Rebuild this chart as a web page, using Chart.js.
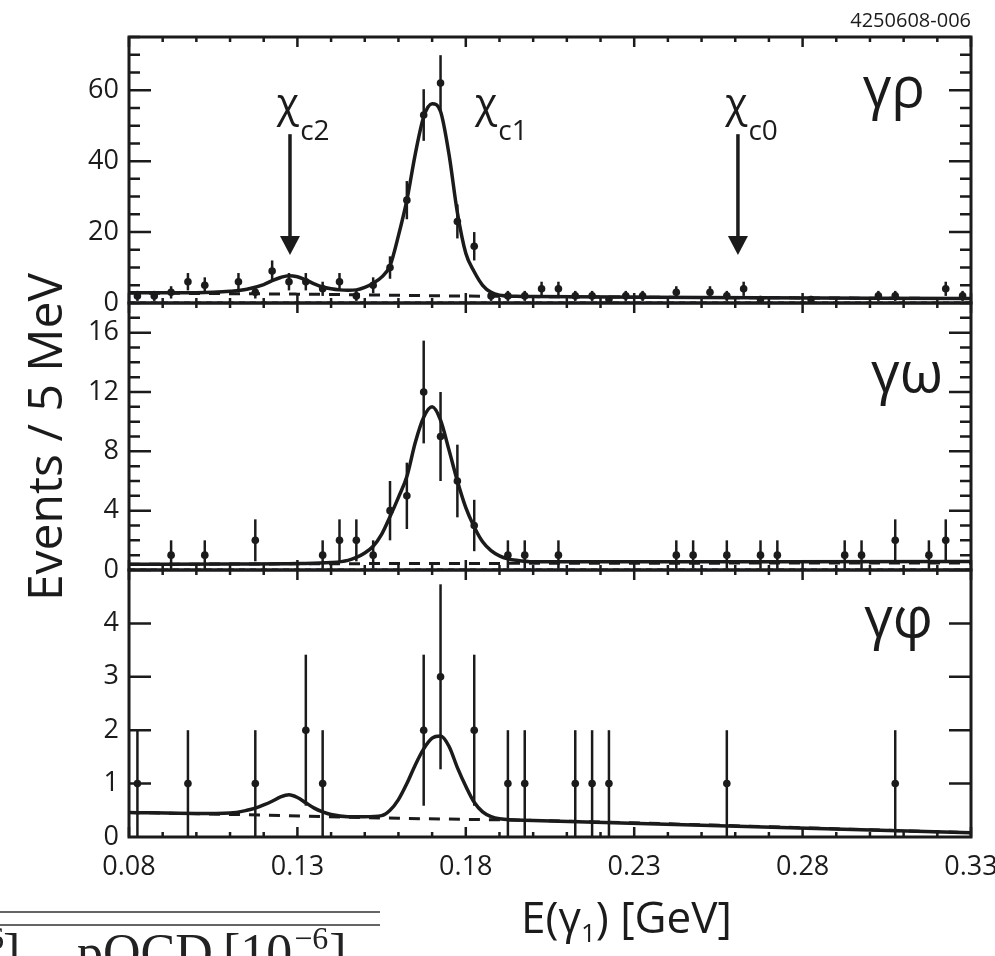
<!DOCTYPE html>
<html>
<head>
<meta charset="utf-8">
<script src="https://cdn.jsdelivr.net/npm/chart.js@4.4.1/dist/chart.umd.min.js"></script>
<style>
  html, body { margin: 0; padding: 0; background: #fff; }
  #wrap { position: relative; width: 995px; height: 956px; overflow: hidden; }
  #wrap canvas { position: absolute; left: 0; top: 0; }
</style>
</head>
<body>
<div id="wrap">
  <canvas id="rho" width="995" height="956"></canvas>
  <canvas id="omega" width="995" height="956"></canvas>
  <canvas id="phi" width="995" height="956"></canvas>
</div>
<script>
// ---- values ----
const xTicks = [0.08, 0.13, 0.18, 0.23, 0.28, 0.33];

// gamma rho panel
const rhoE = [0.0825, 0.0875, 0.0925, 0.0975, 0.1025, 0.1125, 0.1175, 0.1225, 0.1275, 0.1325,
              0.1375, 0.1425, 0.1475, 0.1525, 0.1575, 0.1625, 0.1675, 0.1725, 0.1775, 0.1825,
              0.1875, 0.1925, 0.1975, 0.2025, 0.2075, 0.2125, 0.2175, 0.2225, 0.2275, 0.2325,
              0.2425, 0.2525, 0.2575, 0.2625, 0.2675, 0.2825, 0.3025, 0.3075, 0.3225, 0.3275];
const rhoN = [2, 2, 3, 6, 5, 6, 3, 9, 6, 6,
              4, 6, 2, 5, 10, 29, 53, 62, 23, 16,
              2, 2, 2, 4, 4, 2, 2, 1, 2, 2,
              3, 3, 2, 4, 1, 1, 2, 2, 4, 2];
const rhoFitE = [0.080, 0.090, 0.100, 0.105, 0.110, 0.115, 0.120, 0.1225, 0.125, 0.1275,
                 0.130, 0.1325, 0.135, 0.1375, 0.140, 0.1425, 0.145, 0.1475, 0.150, 0.1525,
                 0.155, 0.1575, 0.160, 0.1625, 0.165, 0.1675, 0.170, 0.1725, 0.175, 0.1775,
                 0.180, 0.1825, 0.185, 0.1875, 0.190, 0.195, 0.200, 0.250, 0.330];
const rhoFitY = [2.9, 2.9, 2.9, 3.0, 3.3, 3.9, 5.2, 6.3, 7.2, 7.7,
                 7.4, 6.5, 5.4, 4.5, 4.0, 3.7, 3.6, 3.7, 4.4, 5.6,
                 7.3, 10.5, 19, 29, 42, 52.5, 56.2, 54, 42, 25.5,
                 14, 8.8, 5.0, 3.0, 2.2, 1.9, 1.8, 1.55, 1.25];
const rhoBkgE = [0.08, 0.13, 0.18, 0.20, 0.25, 0.33];
const rhoBkgY = [2.8, 2.5, 1.95, 1.8, 1.55, 1.25];
const rhoTicks = [0, 20, 40, 60];

// gamma omega panel
const omegaE = [0.0925, 0.1025, 0.1175, 0.1375, 0.1425, 0.1475, 0.1525, 0.1575, 0.1625, 0.1675,
                0.1725, 0.1775, 0.1825, 0.1925, 0.1975, 0.2075, 0.2425, 0.2475, 0.2575, 0.2675,
                0.2725, 0.2925, 0.2975, 0.3075, 0.3175, 0.3225];
const omegaN = [1, 1, 2, 1, 2, 2, 1, 4, 5, 12,
                9, 6, 3, 1, 1, 1, 1, 1, 1, 1,
                1, 1, 1, 2, 1, 2];
const omegaFitE = [0.080, 0.110, 0.130, 0.140, 0.145, 0.1475, 0.150, 0.1525, 0.155, 0.1575,
                   0.160, 0.1625, 0.165, 0.1675, 0.170, 0.1725, 0.175, 0.1775, 0.180, 0.1825,
                   0.185, 0.1875, 0.190, 0.1925, 0.195, 0.200, 0.330];
const omegaFitY = [0.38, 0.40, 0.43, 0.5, 0.65, 0.85, 1.15, 1.6, 2.4, 3.6,
                   4.9, 6.3, 8.6, 10.3, 11.0, 10.1, 8.1, 6.0, 4.2, 2.9,
                   1.9, 1.3, 0.95, 0.75, 0.65, 0.55, 0.57];
const omegaBkgE = [0.08, 0.15, 0.33];
const omegaBkgY = [0.38, 0.43, 0.48];
const omegaTicks = [0, 4, 8, 12, 16];

// gamma phi panel
const phiE = [0.0825, 0.0975, 0.1175, 0.1325, 0.1375, 0.1675, 0.1725, 0.1825, 0.1925, 0.1975,
              0.2125, 0.2175, 0.2225, 0.2575, 0.3075];
const phiN = [1, 1, 1, 2, 1, 2, 3, 2, 1, 1, 1, 1, 1, 1, 1];
const phiFitE = [0.080, 0.100, 0.110, 0.115, 0.1175, 0.120, 0.1225, 0.125, 0.1275, 0.130,
                 0.1325, 0.135, 0.1375, 0.140, 0.145, 0.150, 0.155, 0.1575, 0.160, 0.1625,
                 0.165, 0.1675, 0.170, 0.1725, 0.175, 0.1775, 0.180, 0.1825, 0.185, 0.1875,
                 0.190, 0.200, 0.330];
const phiFitY = [0.46, 0.44, 0.45, 0.5, 0.54, 0.6, 0.67, 0.75, 0.79, 0.74,
                 0.64, 0.54, 0.47, 0.42, 0.38, 0.38, 0.40, 0.5, 0.7, 1.0,
                 1.35, 1.65, 1.85, 1.89, 1.7, 1.3, 0.95, 0.65, 0.47, 0.38,
                 0.34, 0.31, 0.08];
const phiBkgE = [0.08, 0.12, 0.16, 0.20, 0.33];
const phiBkgY = [0.46, 0.41, 0.35, 0.31, 0.08];
const phiTicks = [0, 1, 2, 3, 4];

// chi_cJ markers (top panel)
const arrowE = [0.1278, 0.2608];
const chiE = [0.1239, 0.1827, 0.2570];
const chiSub = ['c2', 'c1', 'c0'];

const ink = '#1b1b1b';
const sans = '"Open Sans", "Noto Sans", sans-serif';

function pts(xs, ys) {
  return xs.map((x, i) => ({ x: x, y: ys[i] }));
}

// error bars, frame, inward ticks and the panel name
const panelPlugin = {
  id: 'panel',
  beforeDatasetsDraw(chart, args, o) {
    const { ctx, chartArea: a, scales: { x, y } } = chart;
    ctx.save();
    ctx.beginPath();
    ctx.rect(a.left, a.top, a.width, a.height);
    ctx.clip();
    ctx.strokeStyle = ink;
    ctx.lineWidth = 2.5;
    o.energies.forEach((e, i) => {
      const n = o.counts[i];
      const err = Math.sqrt(n);
      const px = x.getPixelForValue(e);
      ctx.beginPath();
      ctx.moveTo(px, y.getPixelForValue(Math.max(0, n - err)));
      ctx.lineTo(px, y.getPixelForValue(n + err));
      ctx.stroke();
    });
    ctx.restore();
  },
  afterDatasetsDraw(chart, args, o) {
    const { ctx, chartArea: a, scales: { x, y } } = chart;
    ctx.save();
    ctx.strokeStyle = ink;
    ctx.lineWidth = 2.5;
    ctx.beginPath();
    for (let i = 0; i <= 25; i++) {
      const px = x.getPixelForValue(0.08 + i * 0.01);
      const len = i % 5 === 0 ? 10 : 5;
      ctx.moveTo(px, a.top); ctx.lineTo(px, a.top + len);
      ctx.moveTo(px, a.bottom); ctx.lineTo(px, a.bottom - len);
    }
    const n = Math.floor(y.max / o.minorStep + 1e-6);
    for (let i = 1; i <= n; i++) {
      const v = i * o.minorStep;
      const r = v / o.majorStep;
      const len = Math.abs(r - Math.round(r)) < 1e-6 ? 22 : 11;
      const py = y.getPixelForValue(v);
      ctx.moveTo(a.left, py); ctx.lineTo(a.left + len, py);
      ctx.moveTo(a.right, py); ctx.lineTo(a.right - len, py);
    }
    ctx.stroke();
    ctx.lineWidth = 3;
    ctx.strokeRect(a.left, a.top, a.width, a.height);

    ctx.fillStyle = ink;
    ctx.font = '56px ' + sans;
    ctx.textAlign = 'right';
    ctx.textBaseline = 'alphabetic';
    ctx.fillText(o.label, a.right - o.labelInset, a.top + o.labelDrop);
    ctx.restore();
  }
};

// arrows, chi labels and the figure code on the top panel
const chiPlugin = {
  id: 'chi',
  afterDraw(chart) {
    const { ctx, chartArea: a, scales: { x, y } } = chart;
    ctx.save();
    ctx.fillStyle = ink;
    ctx.strokeStyle = ink;
    ctx.lineWidth = 3.5;
    arrowE.forEach(e => {
      const px = x.getPixelForValue(e);
      const y1 = y.getPixelForValue(47.6);
      const y2 = y.getPixelForValue(13.5);
      ctx.beginPath();
      ctx.moveTo(px, y1);
      ctx.lineTo(px, y2 - 14);
      ctx.stroke();
      ctx.beginPath();
      ctx.moveTo(px - 10, y2 - 19);
      ctx.lineTo(px + 10, y2 - 19);
      ctx.lineTo(px, y2);
      ctx.closePath();
      ctx.fill();
    });
    ctx.textAlign = 'left';
    ctx.textBaseline = 'alphabetic';
    chiE.forEach((e, i) => {
      const px = x.getPixelForValue(e);
      const py = y.getPixelForValue(52.4);
      ctx.font = '41px ' + sans;
      ctx.fillText('χ', px, py);
      const w = ctx.measureText('χ').width;
      ctx.font = '28px ' + sans;
      ctx.fillText(chiSub[i], px + w + 1, py + 23);
    });
    ctx.font = '20px ' + sans;
    ctx.textAlign = 'right';
    ctx.fillText('4250608-006', a.right, a.top - 10);
    ctx.restore();
  }
};

// axis titles and the cut table fragment under the plot
const titlePlugin = {
  id: 'titles',
  afterDraw(chart) {
    const ctx = chart.ctx;
    ctx.save();
    ctx.fillStyle = ink;
    ctx.textBaseline = 'alphabetic';

    ctx.save();
    ctx.translate(62, 437);
    ctx.rotate(-Math.PI / 2);
    ctx.textAlign = 'center';
    ctx.font = '48px ' + sans;
    ctx.fillText('Events / 5 MeV', 0, 0);
    ctx.restore();

    ctx.textAlign = 'left';
    let cx = 521;
    ctx.font = '44px ' + sans;
    ctx.fillText('E(γ', cx, 933);
    cx += ctx.measureText('E(γ').width;
    ctx.font = '26px ' + sans;
    ctx.fillText('1', cx, 942);
    cx += ctx.measureText('1').width;
    ctx.font = '44px ' + sans;
    ctx.fillText(') [GeV]', cx, 933);

    // piece of the table printed below the figure
    ctx.strokeStyle = '#333';
    ctx.lineWidth = 1.5;
    ctx.beginPath();
    ctx.moveTo(0, 912); ctx.lineTo(380, 912);
    ctx.moveTo(0, 925); ctx.lineTo(380, 925);
    ctx.stroke();
    ctx.fillStyle = '#222';
    const serif = '"Liberation Serif", "DejaVu Serif", serif';
    ctx.font = '52px ' + serif;
    ctx.fillText('pQCD', 77, 970);
    ctx.fillText('[10', 223, 970);
    let sx = 223 + ctx.measureText('[10').width + 2;
    ctx.fillText(']', 3, 970);
    ctx.font = '32px ' + serif;
    ctx.fillText('−6', sx, 949);
    sx += ctx.measureText('−6').width + 1;
    ctx.font = '52px ' + serif;
    ctx.fillText(']', sx, 970);
    ctx.font = '32px ' + serif;
    ctx.textAlign = 'right';
    ctx.fillText('6', 4, 949);
    ctx.restore();
  }
};

function makePanel(id, cfg) {
  const datasets = [
    { data: pts(cfg.fitE, cfg.fitY), borderColor: ink, borderWidth: 3.5, pointRadius: 0,
      cubicInterpolationMode: 'monotone' },
    { data: pts(cfg.bkgE, cfg.bkgY), borderColor: ink, borderWidth: 3, borderDash: [11, 9],
      pointRadius: 0, cubicInterpolationMode: 'monotone' },
    { data: pts(cfg.E, cfg.N), showLine: false, pointRadius: 3.8, pointStyle: 'circle',
      pointBackgroundColor: ink, pointBorderWidth: 0 }
  ];
  if (cfg.blueY !== null) {
    datasets.push({ data: pts([0.08, 0.33], [cfg.blueY, cfg.blueY]), borderColor: '#4566b0',
      borderWidth: 1.2, borderDash: [6, 5], pointRadius: 0 });
  }
  return new Chart(document.getElementById(id), {
    type: 'line',
    data: { datasets: datasets },
    plugins: [panelPlugin].concat(cfg.extra),
    options: {
      responsive: false,
      animation: false,
      devicePixelRatio: 1,
      layout: { padding: { left: 0, right: 24, top: cfg.top, bottom: cfg.bottom } },
      plugins: {
        legend: { display: false },
        tooltip: { enabled: false },
        panel: {
          energies: cfg.E, counts: cfg.N,
          minorStep: cfg.minor, majorStep: cfg.major,
          label: cfg.label, labelInset: cfg.labelInset, labelDrop: cfg.labelDrop
        }
      },
      scales: {
        x: {
          type: 'linear', min: 0.08, max: 0.33, display: cfg.showX,
          grid: { display: false, drawTicks: false },
          border: { display: false },
          afterBuildTicks: s => { s.ticks = xTicks.map(v => ({ value: v })); },
          afterFit: s => {
            if (!cfg.showX) return;
            s.height = 119; s.paddingLeft = 0; s.paddingRight = 0;
          },
          ticks: {
            autoSkip: false, maxRotation: 0, padding: 14, color: ink,
            font: { family: sans, size: 27 },
            callback: v => v.toFixed(2)
          }
        },
        y: {
          type: 'linear', min: 0, max: cfg.yMax,
          grid: { display: false, drawTicks: false },
          border: { display: false },
          afterBuildTicks: s => { s.ticks = cfg.yTicks.map(v => ({ value: v })); },
          afterFit: s => { s.width = 129; s.paddingTop = 0; s.paddingBottom = 0; },
          ticks: {
            autoSkip: false, padding: 10, color: ink,
            font: { family: sans, size: 27 }
          }
        }
      }
    }
  });
}

makePanel('rho', {
  E: rhoE, N: rhoN, fitE: rhoFitE, fitY: rhoFitY, bkgE: rhoBkgE, bkgY: rhoBkgY,
  yMax: 75, yTicks: rhoTicks, minor: 5, major: 20, blueY: 0.3,
  label: 'γρ', labelInset: 46, labelDrop: 70,
  top: 37, bottom: 653, showX: false, extra: [chiPlugin]
});
makePanel('omega', {
  E: omegaE, N: omegaN, fitE: omegaFitE, fitY: omegaFitY, bkgE: omegaBkgE, bkgY: omegaBkgY,
  yMax: 18, yTicks: omegaTicks, minor: 1, major: 4, blueY: 0.08,
  label: 'γω', labelInset: 28, labelDrop: 89,
  top: 303, bottom: 386, showX: false, extra: []
});
makePanel('phi', {
  E: phiE, N: phiN, fitE: phiFitE, fitY: phiFitY, bkgE: phiBkgE, bkgY: phiBkgY,
  yMax: 5, yTicks: phiTicks, minor: 1, major: 1, blueY: null,
  label: 'γφ', labelInset: 38, labelDrop: 67,
  top: 570, bottom: 0, showX: true, extra: [titlePlugin]
});
</script>
</body>
</html>
